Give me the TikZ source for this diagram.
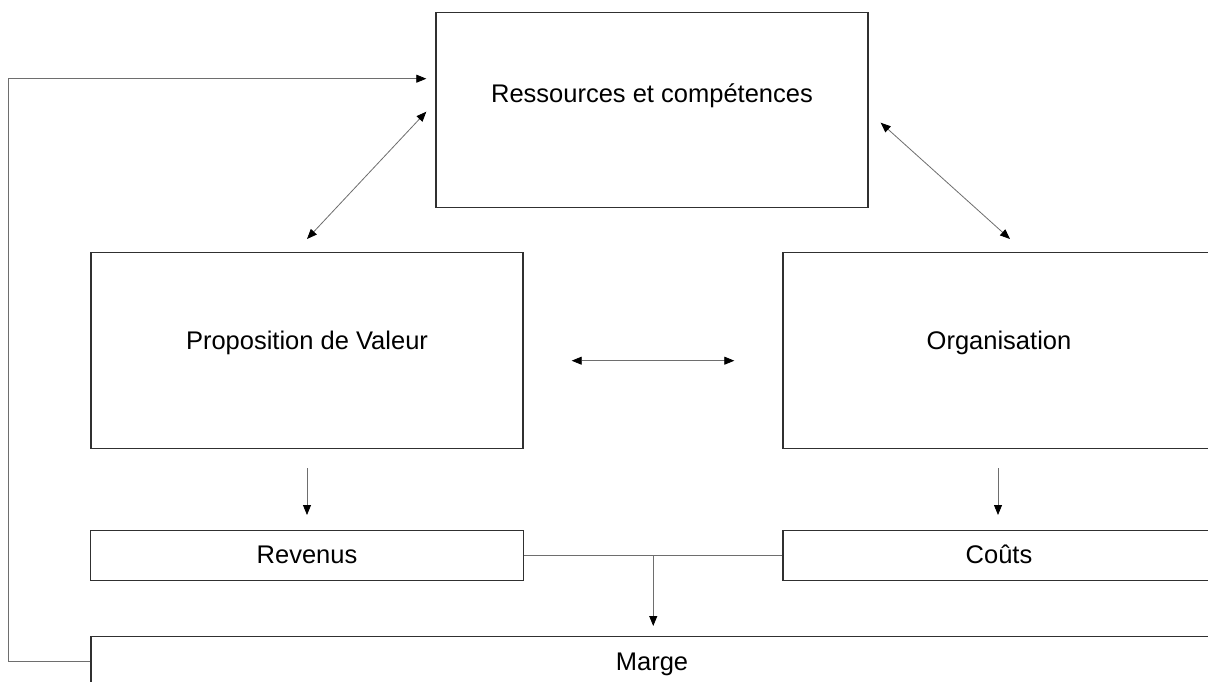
\documentclass[tikz,border=0pt]{standalone}
\usepackage{fontspec}
\setmainfont{Liberation Sans}
\usetikzlibrary{arrows.meta,calc}
\definecolor{boxline}{HTML}{303030}
\definecolor{conline}{HTML}{6E6E6E}
\tikzset{
  blk/.style={draw=boxline, line width=1.4pt, inner sep=0pt, anchor=north,
    font=\fontsize{25.5}{30}\selectfont, text=black},
  tipk/.tip={Triangle[length=10pt,width=8pt,black]},
  arr/.style={draw=conline, line width=0.8pt, -tipk},
  darr/.style={draw=conline, line width=0.8pt, tipk-tipk},
  ln/.style={draw=conline, line width=0.8pt},
}
\begin{document}
\begin{tikzpicture}[x=1pt,y=-1pt]
\useasboundingbox (0,0) rectangle (1208,682);
\clip (0,0) rectangle (1208,682);
\fill[white] (0,0) rectangle (1208,682);
\node[blk, minimum width=432pt, text height=90pt, text depth=105pt] (r) at (652,12) {Ressources et compétences};
\node[blk, minimum width=432pt, text height=97pt, text depth=99pt] (pv) at (307,252) {Proposition de Valeur};
\node[blk, minimum width=432pt, text height=97pt, text depth=99pt] (org) at (999,252) {Organisation};
\node[blk, minimum width=433pt, text height=33pt, text depth=17pt] (rev) at (307,530) {Revenus};
\node[blk, minimum width=432pt, text height=33pt, text depth=17pt] (cou) at (999,530) {Coûts};
\node[blk, minimum width=1122pt, text height=34pt, text depth=16pt] (mar) at (652,636) {Marge};
% feedback loop
\draw[arr] (mar.west) -- ++(-82,0) |- ([shift={(-9pt,31.5pt)}]r.west);
% double arrows
\draw[darr] ([shift={(-9pt,-1.5pt)}]r.west) -- ([yshift=13pt]pv.north);
\draw[darr] ([shift={(12pt,-12.5pt)}]r.east) -- ([shift={(11pt,13pt)}]org.north);
\draw[darr] ([shift={(48pt,-10pt)}]pv.east) -- ([shift={(-48pt,-10pt)}]org.west);
% down arrows
\draw[arr] ([yshift=-19pt]pv.south) -- ([yshift=15pt]rev.north);
\draw[arr] ([shift={(-1pt,-19pt)}]org.south) -- ([shift={(-1pt,15pt)}]cou.north);
% revenue-cost junction
\draw[ln] (rev.east) -- (cou.west);
\coordinate (mid) at ($(rev.east)!0.5!(cou.west)$);
\draw[arr, shorten >=10pt] (mid) -- (mid |- mar.north);
\end{tikzpicture}
\end{document}
